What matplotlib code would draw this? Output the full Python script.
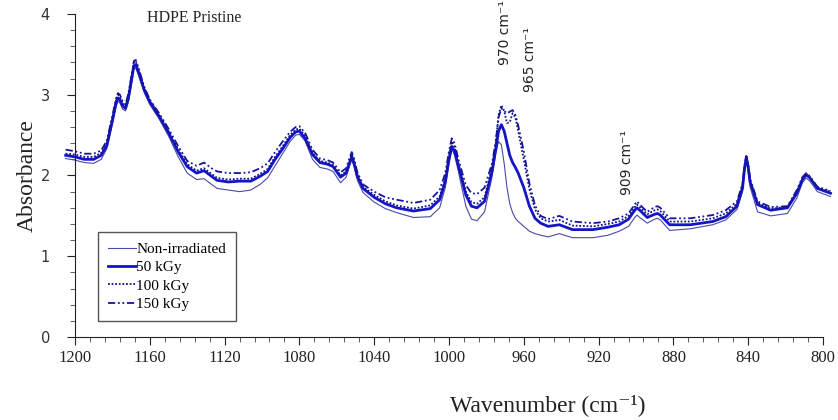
import numpy as np
import matplotlib
matplotlib.use("Agg")
import matplotlib.pyplot as plt
from matplotlib.ticker import MultipleLocator

# wavenumber grid (cm-1)
wavenumber = [1205, 1200, 1195, 1190, 1186, 1183, 1180, 1178, 1177, 1176, 1174.5, 1173, 1171.5, 1170, 1168.5, 1167.5, 1166, 1163,
              1160, 1155, 1150, 1145, 1140, 1135, 1131, 1127, 1124, 1118, 1112, 1106, 1101, 1097,
              1093, 1089, 1085, 1082, 1080, 1077, 1073, 1069, 1065, 1062, 1058, 1055, 1053, 1052, 1051, 1049, 1046,
              1040, 1034, 1028, 1019, 1010, 1005, 1002, 1000, 998.5, 997, 995, 991, 988, 985, 981, 977,
              975, 973.5, 972, 970.5, 969, 967.5, 966, 964.5, 963, 960, 957, 954, 951, 947, 941, 934, 923, 915,
              909, 904, 901, 899.5, 898, 894, 890, 888.5, 887, 882, 871, 859, 852, 846, 843, 842, 841, 840, 839, 835,
              828, 819, 814, 811, 809, 807, 803, 796]

non_irradiated = [2.21, 2.19, 2.16, 2.15, 2.20, 2.33, 2.64, 2.86, 2.92, 2.90, 2.82, 2.80, 2.91, 3.11, 3.32, 3.33, 3.24, 3.03,
                  2.88, 2.70, 2.49, 2.24, 2.03, 1.95, 1.96, 1.89, 1.84, 1.82, 1.80, 1.82, 1.89, 1.97,
                  2.12, 2.27, 2.42, 2.50, 2.51, 2.43, 2.20, 2.10, 2.08, 2.05, 1.91, 1.98, 2.13, 2.19, 2.13, 1.94, 1.79,
                  1.67, 1.59, 1.54, 1.48, 1.49, 1.60, 1.85, 2.15, 2.33, 2.25, 2.05, 1.62, 1.46, 1.44, 1.55, 1.98,
                  2.28, 2.42, 2.38, 2.15, 1.85, 1.65, 1.54, 1.47, 1.43, 1.37, 1.31, 1.28, 1.26, 1.24, 1.28, 1.23, 1.23, 1.26,
                  1.31, 1.37, 1.47, 1.51, 1.48, 1.41, 1.46, 1.47, 1.45, 1.32, 1.34, 1.39, 1.45, 1.58, 1.80, 2.04, 2.20, 2.05, 1.86, 1.55,
                  1.50, 1.53, 1.72, 1.91, 1.97, 1.93, 1.80, 1.74]

kgy_50 = [2.25, 2.23, 2.20, 2.20, 2.25, 2.37, 2.68, 2.90, 2.96, 2.94, 2.86, 2.83, 2.95, 3.15, 3.36, 3.37, 3.28, 3.06,
          2.91, 2.73, 2.53, 2.30, 2.11, 2.03, 2.06, 1.99, 1.94, 1.92, 1.93, 1.93, 1.99, 2.05,
          2.20, 2.33, 2.47, 2.54, 2.55, 2.46, 2.26, 2.16, 2.14, 2.11, 1.98, 2.03, 2.17, 2.23, 2.17, 1.99, 1.84,
          1.73, 1.65, 1.60, 1.56, 1.59, 1.70, 1.92, 2.20, 2.36, 2.30, 2.12, 1.76, 1.62, 1.60, 1.68, 2.05,
          2.32, 2.55, 2.63, 2.55, 2.40, 2.25, 2.16, 2.10, 2.03, 1.85, 1.62, 1.47, 1.41, 1.37, 1.39, 1.33, 1.33, 1.36,
          1.39, 1.46, 1.56, 1.60, 1.57, 1.48, 1.52, 1.53, 1.51, 1.39, 1.39, 1.43, 1.49, 1.62, 1.85, 2.08, 2.23, 2.10, 1.92, 1.64,
          1.57, 1.60, 1.78, 1.95, 2.01, 1.97, 1.84, 1.78]

kgy_100 = [2.27, 2.26, 2.23, 2.23, 2.28, 2.40, 2.71, 2.94, 3.00, 2.98, 2.89, 2.86, 2.99, 3.19, 3.40, 3.41, 3.31, 3.08,
           2.93, 2.75, 2.55, 2.33, 2.14, 2.06, 2.09, 2.02, 1.97, 1.95, 1.96, 1.96, 2.02, 2.08,
           2.23, 2.36, 2.50, 2.57, 2.58, 2.49, 2.28, 2.18, 2.16, 2.13, 2.00, 2.05, 2.20, 2.26, 2.20, 2.01, 1.86,
           1.76, 1.68, 1.63, 1.59, 1.63, 1.74, 1.96, 2.25, 2.42, 2.35, 2.15, 1.80, 1.67, 1.65, 1.73, 2.10,
           2.40, 2.75, 2.87, 2.80, 2.65, 2.66, 2.77, 2.72, 2.55, 2.20, 1.83, 1.58, 1.47, 1.43, 1.45, 1.38, 1.37, 1.40,
           1.43, 1.50, 1.60, 1.64, 1.61, 1.52, 1.57, 1.58, 1.56, 1.43, 1.43, 1.47, 1.53, 1.65, 1.88, 2.10, 2.24, 2.12, 1.94, 1.66,
           1.59, 1.61, 1.80, 1.96, 2.02, 1.98, 1.85, 1.80]

kgy_150 = [2.32, 2.30, 2.27, 2.27, 2.31, 2.43, 2.74, 2.96, 3.02, 3.00, 2.92, 2.88, 3.01, 3.21, 3.42, 3.43, 3.33, 3.10,
           2.94, 2.77, 2.58, 2.37, 2.18, 2.12, 2.16, 2.09, 2.05, 2.03, 2.03, 2.04, 2.09, 2.15,
           2.29, 2.42, 2.54, 2.60, 2.61, 2.53, 2.32, 2.21, 2.19, 2.16, 2.04, 2.09, 2.23, 2.29, 2.23, 2.04, 1.89,
           1.80, 1.73, 1.70, 1.66, 1.70, 1.82, 2.03, 2.30, 2.46, 2.40, 2.20, 1.88, 1.78, 1.77, 1.85, 2.15,
           2.42, 2.72, 2.83, 2.80, 2.77, 2.79, 2.81, 2.75, 2.62, 2.30, 1.90, 1.63, 1.50, 1.46, 1.50, 1.43, 1.41, 1.43,
           1.47, 1.53, 1.63, 1.68, 1.64, 1.55, 1.61, 1.62, 1.60, 1.47, 1.47, 1.51, 1.57, 1.68, 1.90, 2.12, 2.24, 2.14, 1.96, 1.68,
           1.61, 1.62, 1.82, 1.98, 2.03, 1.99, 1.86, 1.81]

series_labels = ["Non-irradiated", "50 kGy", "100 kGy", "150 kGy"]
peak_labels = ["970", "965", "909"]

serif = ["Liberation Serif", "DejaVu Serif"]

fig = plt.figure(figsize=(8.38, 4.2), dpi=100)
ax = fig.add_axes([0.0895, 0.1976, 0.8926, 0.7691])

ax.plot(wavenumber, non_irradiated, color="#4a4aa6", lw=0.8, label=series_labels[0], clip_on=False)
ax.plot(wavenumber, kgy_50, color="#1515c8", lw=2.0, label=series_labels[1], clip_on=False)
ax.plot(wavenumber, kgy_100, color="#12128c", lw=1.3, ls=(0, (1, 1)), label=series_labels[2], clip_on=False)
ax.plot(wavenumber, kgy_150, color="#15159c", lw=1.3, ls=(0, (4, 1.5, 1, 1.5, 1, 1.5)),
        label=series_labels[3], clip_on=False)

ax.set_xlim(1200, 800)
ax.set_ylim(0, 4)
ax.xaxis.set_major_locator(MultipleLocator(40))
ax.xaxis.set_minor_locator(MultipleLocator(8))
ax.yaxis.set_major_locator(MultipleLocator(1))
ax.yaxis.set_minor_locator(MultipleLocator(0.2))
for s in ["top", "right"]:
    ax.spines[s].set_visible(False)
for s in ["left", "bottom"]:
    ax.spines[s].set_color("#222222")
ax.tick_params(which="major", direction="out", length=6, color="#222222")
ax.tick_params(which="minor", direction="out", length=3.5, color="#444444")
ax.tick_params(axis="x", labelsize=12, pad=3)
ax.tick_params(axis="y", labelsize=10.5, labelcolor="#333333", pad=12)
for lab in ax.get_xticklabels():
    lab.set_fontfamily(serif)
    lab.set_color("#222222")

ax.set_ylabel("Absorbance", fontfamily=serif, fontsize=17, color="#222222", labelpad=2)
fig.text(0.654, 0.036, "Wavenumber (cm\u207b\u00b9)", fontfamily=serif, fontsize=17,
         color="#222222", ha="center", va="center")
fig.text(0.1755, 0.958, "HDPE Pristine", fontfamily=serif, fontsize=11.5,
         color="#222222", ha="left", va="center")

peak_pos = [(970, 3.37), (956.5, 3.03), (904.8, 1.76)]
for lab, (xp, yp) in zip(peak_labels, peak_pos):
    ax.text(xp, yp, lab + " cm\u207b\u00b9", rotation=90, ha="center", va="bottom",
            fontsize=10, color="#222222", fontfamily=["DejaVu Sans"])

leg = ax.legend(loc="lower left", bbox_to_anchor=(0.031, 0.05), prop={"family": serif, "size": 11},
                handlelength=1.8, handletextpad=0.05, labelspacing=0.3, borderpad=0.65,
                fancybox=False, framealpha=1, borderaxespad=0)
leg.get_frame().set_edgecolor("#555555")
leg.get_frame().set_linewidth(1.0)

fig.savefig("out.png", dpi=100)
